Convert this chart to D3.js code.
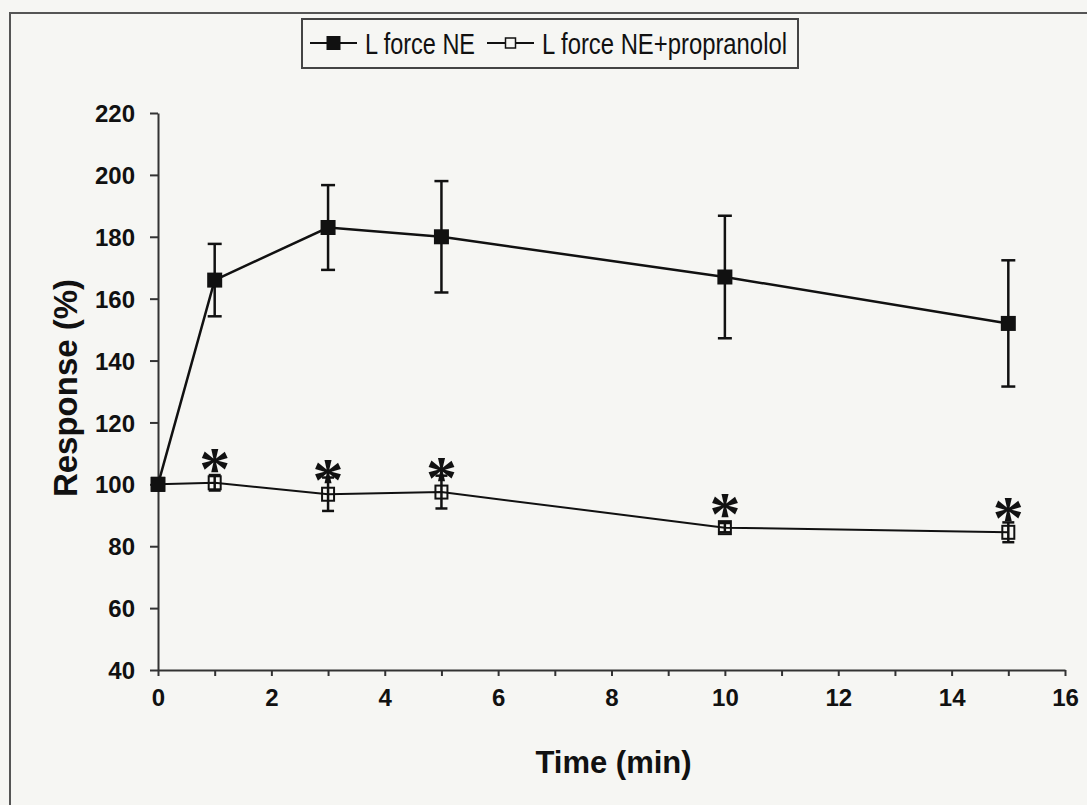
<!DOCTYPE html>
<html>
<head>
<meta charset="utf-8">
<script src="https://cdn.jsdelivr.net/npm/d3@7"></script>
<style>
  body { margin: 0; background: #f6f6f3; }
  svg { display: block; font-family: Arial, "Liberation Sans", sans-serif; }
</style>
</head>
<body>
<div id="chart"></div>
<script>
// time points (min)
var times = [0, 1, 3, 5, 10, 15];

// L force NE, mean and SEM (%)
var neMean = [100, 166, 183, 180, 167, 152];
var neErr = [0, 11.7, 13.7, 18, 19.8, 20.4];

// L force NE+propranolol, mean and SEM (%)
var propMean = [100, 100.5, 96.8, 97.5, 86, 84.5];
var propErr = [0, 2.5, 5.4, 5.3, 1.5, 3.2];

// points flagged as significant
var sigTimes = [1, 3, 5, 10, 15];

var yTicks = [40, 60, 80, 100, 120, 140, 160, 180, 200, 220];
var xTicks = [0, 1, 2, 3, 4, 5, 6, 7, 8, 9, 10, 11, 12, 13, 14, 15, 16];

var seriesNames = ["L force NE", "L force NE+propranolol"];

var W = 1087, H = 805;
var plot = { left: 158, right: 1065, top: 113, bottom: 670 };

var svg = d3.select("#chart").append("svg")
    .attr("width", W)
    .attr("height", H);

svg.append("rect")
    .attr("width", W).attr("height", H)
    .attr("fill", "#f6f6f3");

// outer chart frame
svg.append("rect")
    .attr("x", 10).attr("y", 13)
    .attr("width", W + 20).attr("height", H + 20)
    .attr("fill", "none")
    .attr("stroke", "#555")
    .attr("stroke-width", 2);

var x = d3.scaleLinear().domain([0, 16]).range([plot.left, plot.right]);
var y = d3.scaleLinear().domain([40, 220]).range([plot.bottom, plot.top]);

// y axis
var yAxis = svg.append("g")
    .attr("transform", "translate(" + plot.left + ",0)")
    .call(d3.axisLeft(y).tickValues(yTicks).tickSize(8).tickSizeOuter(0).tickPadding(15));

// x axis, ticks every minute, labels on even ones
var xAxis = svg.append("g")
    .attr("transform", "translate(0," + plot.bottom + ")")
    .call(d3.axisBottom(x).tickValues(xTicks).tickSize(6).tickSizeOuter(0).tickPadding(13)
        .tickFormat(function(d) { return d % 2 === 0 ? d : ""; }));

[yAxis, xAxis].forEach(function(g) {
    g.attr("font-size", 24).attr("font-family", "Arial, 'Liberation Sans', sans-serif");
    g.select(".domain").attr("stroke", "#333").attr("stroke-width", 2);
    g.selectAll(".tick line").attr("stroke", "#333").attr("stroke-width", 2);
    g.selectAll(".tick text")
        .attr("fill", "#111")
        .attr("font-weight", "bold");
});
yAxis.selectAll(".tick text").attr("dy", "0.36em");

// axis titles
svg.append("text")
    .attr("x", (plot.left + plot.right) / 2 + 2)
    .attr("y", 773)
    .attr("text-anchor", "middle")
    .attr("font-size", 31)
    .attr("font-weight", "bold")
    .attr("fill", "#111")
    .text("Time (min)");

svg.append("text")
    .attr("transform", "translate(77,388) rotate(-90)")
    .attr("text-anchor", "middle")
    .attr("font-size", 33)
    .attr("font-weight", "bold")
    .attr("fill", "#111")
    .text("Response (%)");

function make_rows(means, errs) {
    return times.map(function(t, i) { return { t: t, v: means[i], e: errs[i] }; });
}

var neRows = make_rows(neMean, neErr);
var propRows = make_rows(propMean, propErr);

var line = d3.line()
    .x(function(d) { return x(d.t); })
    .y(function(d) { return y(d.v); });

function draw_errors(rows, cap) {
    var g = svg.append("g").attr("stroke", "#111").attr("stroke-width", 2.5);
    rows.filter(function(d) { return d.e > 0; }).forEach(function(d) {
        var cx = x(d.t);
        g.append("line")
            .attr("x1", cx).attr("x2", cx)
            .attr("y1", y(d.v - d.e)).attr("y2", y(d.v + d.e));
        [d.v - d.e, d.v + d.e].forEach(function(v) {
            g.append("line")
                .attr("x1", cx - cap / 2).attr("x2", cx + cap / 2)
                .attr("y1", y(v)).attr("y2", y(v));
        });
    });
}

// propranolol series: open squares
svg.append("path")
    .datum(propRows)
    .attr("d", line)
    .attr("fill", "none")
    .attr("stroke", "#111")
    .attr("stroke-width", 2);
draw_errors(propRows, 12);
svg.append("g").selectAll("rect")
    .data(propRows)
    .join("rect")
    .attr("x", function(d) { return x(d.t) - 6; })
    .attr("y", function(d) { return y(d.v) - 6.5; })
    .attr("width", 12).attr("height", 13)
    .attr("fill", "none")
    .attr("stroke", "#111")
    .attr("stroke-width", 2);

// NE series: filled squares
svg.append("path")
    .datum(neRows)
    .attr("d", line)
    .attr("fill", "none")
    .attr("stroke", "#111")
    .attr("stroke-width", 2.5);
draw_errors(neRows, 14);
svg.append("g").selectAll("rect")
    .data(neRows)
    .join("rect")
    .attr("x", function(d) { return x(d.t) - 7.5; })
    .attr("y", function(d) { return y(d.v) - 7.5; })
    .attr("width", 15).attr("height", 15)
    .attr("fill", "#111");

// significance marks above the propranolol points
svg.append("g").selectAll("text")
    .data(propRows.filter(function(d) { return sigTimes.indexOf(d.t) >= 0; }))
    .join("text")
    .attr("x", function(d) { return x(d.t); })
    .attr("y", function(d) { return y(d.v) + 6; })
    .attr("text-anchor", "middle")
    .attr("font-family", "'Liberation Serif', 'Times New Roman', serif")
    .attr("font-weight", "bold")
    .attr("font-size", 62)
    .attr("fill", "#111")
    .text("*");

// legend
var legend = svg.append("g");
legend.append("rect")
    .attr("x", 302).attr("y", 19)
    .attr("width", 496).attr("height", 49)
    .attr("fill", "#f6f6f3")
    .attr("stroke", "#444")
    .attr("stroke-width", 2);

var legendItems = [
    { name: seriesNames[0], lx: 310, tx: 365, tw: 110, filled: true },
    { name: seriesNames[1], lx: 487, tx: 542, tw: 245, filled: false }
];
var ly = 43;
legendItems.forEach(function(it) {
    legend.append("line")
        .attr("x1", it.lx).attr("x2", it.lx + 47)
        .attr("y1", ly).attr("y2", ly)
        .attr("stroke", "#111").attr("stroke-width", 2);
    if (it.filled) {
        legend.append("rect")
            .attr("x", it.lx + 23.5 - 7).attr("y", ly - 7)
            .attr("width", 14).attr("height", 14)
            .attr("fill", "#111");
    } else {
        legend.append("rect")
            .attr("x", it.lx + 23.5 - 5).attr("y", ly - 5)
            .attr("width", 10).attr("height", 10)
            .attr("fill", "#f6f6f3")
            .attr("stroke", "#111").attr("stroke-width", 1.5);
    }
    legend.append("text")
        .attr("x", it.tx)
        .attr("y", ly + 11)
        .attr("font-size", 29)
        .attr("fill", "#111")
        .attr("textLength", it.tw)
        .attr("lengthAdjust", "spacingAndGlyphs")
        .text(it.name);
});
</script>
</body>
</html>
